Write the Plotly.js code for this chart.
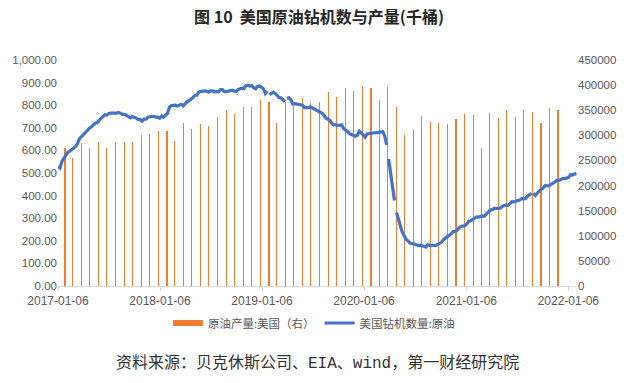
<!DOCTYPE html>
<html><head><meta charset="utf-8">
<script src="https://cdn.plot.ly/plotly-3.0.1.min.js"></script>
<style>html,body{margin:0;padding:0;background:#fff}#chart{width:638px;height:383px}</style>
</head><body><div id="chart"></div>
<script>
// Weekly US crude oil rig count (Fridays, starting 2017-01-06)
const rig2017 = [529,522,551,566, 583,591,597,602, 609,617,631,652,662, 672,683,688,697, 703,712,720,722,
  733,741,747,758,756, 763,765,764,766, 765,768,763,759, 759,756,749,744,750, 748,743,736,737,
  729,738,738,747, 749,751,751,747,747];
const rig2018 = [742,752,747,759, 765,791,798,799, 800,796,800,804,797, 808,815,820,825, 834,844,844,859,
  861,862,863,862,858, 863,863,858,861, 859,869,869,860,860, 862,867,866,863, 861,869,873,875,
  874,886,888,885,887, 877,873,883,885];
const rig2019 = [877,873,852,862, 847,854,857,853, 843,834,833,824,816, 831,833,825,805, 807,805,802,802,800,
  789,788,789,793, 788,784,779,776, 770,764,754,742,738, 733,719,713,713, 710,712,713,696,
  691,684,674,671,668, 663,667,685,677];
const rig2020 = [670,659,673,675,676, 676,678,679,679, 682,683,664,624, 562,504,438,378, 325,292,258,237,222,
  206,199,189,188, 185,181,180,181,180, 176,172,183,180, 181,180,179,183, 189,193,205,211,221,
  226,231,241,241, 246,258,263,264];
const rig2021 = [267,275,287,289,295, 299,306,305,309, 310,309,318,324, 337,337,344,343,342, 344,352,356,359,
  356,365,373,372, 376,378,380,387,385, 387,397,405,410, 410,401,411,421, 428,433,445,443,444,
  450,454,461,467, 467,471,475,475,480];
const rig2022 = [481,492,491,495,497];
const rigStartDate = '2017-01-06';
// month-end rows where the rig series is blank (visible breaks in the line)
const rigGapDates = ['2019-01-31','2019-03-31','2020-03-31','2020-04-30','2021-08-31'];

// Monthly US crude oil production (thousand barrels), Jan 2017 - Nov 2021
const prod2017 = [274500,254700,283800,274500,286400,274500,286400,286400,286400,299700,301700,309600];
const prod2018 = [309600,287800,325500,313600,323500,317600,337400,351300,343400,357300,357300,371200];
const prod2019 = [367200,325500,367200,359300,375200,365200,367200,387100,377100,395000,389000,399000];
const prod2020 = [395000,371200,397000,357300,299700,311600,339400,327500,325500,321600,333500,343400];
const prod2021 = [341400,273900,345400,335500,351300,337400,351300,347400,325500,355300,351300];

const xTickLabels = ['2017-01-06','2018-01-06','2019-01-06','2020-01-06','2021-01-06','2022-01-06'];
const chartTitle = '图 10\u00a0 美国原油钻机数与产量(千桶)';
const prodName = '原油产量:美国（右）';
const rigName = '美国钻机数量:原油';
const sourceText = '资料来源：贝克休斯公司、EIA、wind，第一财经研究院';

function addDays(iso, n) {
  const d = new Date(iso + 'T00:00:00Z');
  d.setUTCDate(d.getUTCDate() + n);
  return d.toISOString().slice(0, 10);
}
const rigValues = [].concat(rig2017, rig2018, rig2019, rig2020, rig2021, rig2022);
const rigPts = rigValues.map((v, i) => [addDays(rigStartDate, 7 * i), v])
  .concat(rigGapDates.map(d => [d, null]));
rigPts.sort((a, b) => a[0] < b[0] ? -1 : (a[0] > b[0] ? 1 : 0));

const prodValues = [].concat(prod2017, prod2018, prod2019, prod2020, prod2021);
const prodDates = prodValues.map((v, i) => new Date(Date.UTC(2017, i + 1, 0)).toISOString().slice(0, 10));

const orange = '#ED7D31', blue = '#4472C4', grey = '#595959';
const numFont = {family: 'Liberation Sans, Arial, sans-serif', size: 11.5, color: grey};

const traces = [
  {type: 'bar', x: prodDates, y: prodValues, yaxis: 'y', width: 4 * 864e5,
   marker: {color: orange, line: {width: 0}}, showlegend: false, name: prodName},
  {type: 'scatter', mode: 'lines', x: [null], y: [null], yaxis: 'y',
   line: {color: orange, width: 6}, name: prodName, hoverinfo: 'skip'},
  {type: 'scatter', mode: 'lines', x: rigPts.map(p => p[0]), y: rigPts.map(p => p[1]), yaxis: 'y2',
   line: {color: blue, width: 3.2}, connectgaps: false, name: rigName}
];

const layout = {
  width: 638, height: 383,
  margin: {l: 58, r: 61, t: 59.5, b: 97},
  paper_bgcolor: '#fff', plot_bgcolor: '#fff',
  title: {text: chartTitle, x: 0.5, xanchor: 'center', xref: 'container', y: 1 - 17.5 / 383, yanchor: 'middle', yref: 'container',
          font: {family: 'Noto Sans CJK SC, sans-serif', size: 16, color: '#262626', weight: 'bold'}},
  xaxis: {type: 'date', range: ['2017-01-06', '2022-02-06'], tickvals: xTickLabels, ticktext: xTickLabels,
          showgrid: false, zeroline: false, showline: true, linecolor: '#d9d9d9', linewidth: 1,
          ticks: 'outside', ticklen: 4, tickcolor: '#d9d9d9',
          tickfont: {family: 'Liberation Sans, Arial, sans-serif', size: 12, color: grey}},
  yaxis: {range: [0, 450000], tick0: 0, dtick: 50000, tickformat: 'd', side: 'right',
          showgrid: false, zeroline: false, showline: false, ticks: '', tickfont: numFont},
  yaxis2: {range: [0, 1000], tick0: 0, dtick: 100, tickformat: ',.2f', side: 'left', overlaying: 'y',
           showgrid: false, zeroline: false, showline: false, ticks: '', tickfont: numFont},
  legend: {orientation: 'h', x: 0.492, xanchor: 'center', xref: 'container', y: 1 - 323 / 383, yanchor: 'middle', yref: 'container',
           itemwidth: 30, font: {family: 'Noto Sans CJK SC, sans-serif', size: 11.5, color: grey}},
  annotations: [{text: sourceText, xref: 'paper', yref: 'paper', x: 0.5, y: (286 - 364) / 226.5,
                 xanchor: 'center', yanchor: 'middle', showarrow: false,
                 font: {family: 'Liberation Mono, Noto Sans CJK SC, monospace', size: 16, color: '#333'}}],
  bargap: 0, showlegend: true
};

Plotly.newPlot('chart', traces, layout, {displayModeBar: false, staticPlot: true});
</script>
</body></html>
